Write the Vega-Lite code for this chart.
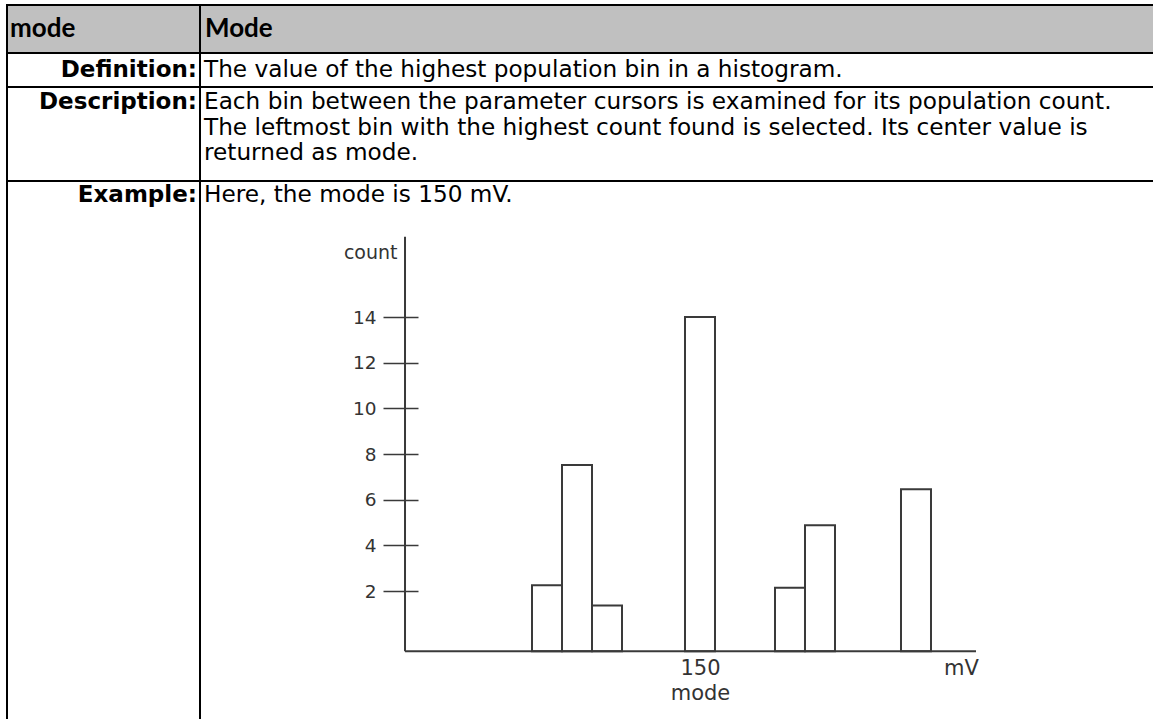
{
  "$schema": "https://vega.github.io/schema/vega-lite/v6.json",
  "autosize": {"type": "none"},
  "padding": {"left": 7, "top": 5, "right": 1146, "bottom": 714},
  "background": "white",
  "config": {"view": {"stroke": "black", "strokeWidth": 2}},
  "datasets": {
    "table": [
      {"row": "header", "label": "mode", "content": "Mode"},
      {"row": "Definition", "label": "Definition:", "content": "The value of the highest population bin in a histogram."},
      {"row": "Description", "label": "Description:", "content": "Each bin between the parameter cursors is examined for its population count.\nThe leftmost bin with the highest count found is selected. Its center value is\nreturned as mode."},
      {"row": "Example", "label": "Example:", "content": "Here, the mode is 150 mV."}
    ],
    "bins": [
      {"start": 94, "end": 104, "count": 2.25},
      {"start": 104, "end": 114, "count": 7.52},
      {"start": 114, "end": 124, "count": 1.37},
      {"start": 145, "end": 155, "count": 14},
      {"start": 175, "end": 185, "count": 2.15},
      {"start": 185, "end": 195, "count": 4.88},
      {"start": 217, "end": 227, "count": 6.46}
    ]
  },
  "columns": 2,
  "spacing": 0,
  "bounds": "flush",
  "align": "each",
  "concat": [
    {
      "width": 193, "height": 48,
      "view": {"fill": "#c0c0c0"},
      "data": {"name": "table"},
      "transform": [{"filter": "datum.row === 'header'"}],
      "mark": {"type": "text", "align": "left", "baseline": "middle", "font": "Lato", "fontWeight": "bold", "fontSize": 26, "dx": 3, "color": "black"},
      "encoding": {"x": {"value": 0}, "text": {"field": "label"}}
    },
    {
      "width": 955, "height": 48,
      "view": {"fill": "#c0c0c0"},
      "data": {"name": "table"},
      "transform": [{"filter": "datum.row === 'header'"}],
      "mark": {"type": "text", "align": "left", "baseline": "middle", "font": "Lato", "fontWeight": "bold", "fontSize": 26, "dx": 5, "color": "black"},
      "encoding": {"x": {"value": 0}, "text": {"field": "content"}}
    },
    {
      "width": 193, "height": 34,
      "data": {"name": "table"},
      "transform": [{"filter": "datum.row === 'Definition'"}],
      "mark": {"type": "text", "align": "right", "baseline": "middle", "font": "DejaVu Sans", "fontWeight": "bold", "fontSize": 23, "dx": -3, "color": "black"},
      "encoding": {"x": {"value": "width"}, "text": {"field": "label"}}
    },
    {
      "width": 955, "height": 34,
      "data": {"name": "table"},
      "transform": [{"filter": "datum.row === 'Definition'"}],
      "mark": {"type": "text", "align": "left", "baseline": "middle", "font": "DejaVu Sans", "fontSize": 23.2, "dx": 4, "color": "black"},
      "encoding": {"x": {"value": 0}, "text": {"field": "content"}}
    },
    {
      "width": 193, "height": 94,
      "data": {"name": "table"},
      "transform": [{"filter": "datum.row === 'Description'"}],
      "mark": {"type": "text", "align": "right", "baseline": "top", "font": "DejaVu Sans", "fontWeight": "bold", "fontSize": 23, "dx": -3, "dy": 4, "color": "black"},
      "encoding": {"x": {"value": "width"}, "y": {"value": 0}, "text": {"field": "label"}}
    },
    {
      "width": 955, "height": 94,
      "data": {"name": "table"},
      "transform": [{"filter": "datum.row === 'Description'"}],
      "mark": {"type": "text", "align": "left", "baseline": "top", "font": "DejaVu Sans", "fontSize": 23.2, "dx": 4, "dy": 4, "lineBreak": "\n", "lineHeight": 25.5, "color": "black"},
      "encoding": {"x": {"value": 0}, "y": {"value": 0}, "text": {"field": "content"}}
    },
    {
      "width": 193, "height": 540,
      "data": {"name": "table"},
      "transform": [{"filter": "datum.row === 'Example'"}],
      "mark": {"type": "text", "align": "right", "baseline": "top", "font": "DejaVu Sans", "fontWeight": "bold", "fontSize": 23, "dx": -3, "dy": 3, "color": "black"},
      "encoding": {"x": {"value": "width"}, "y": {"value": 0}, "text": {"field": "label"}}
    },
    {
      "width": 955, "height": 540,
      "layer": [
        {
          "data": {"name": "table"},
          "transform": [{"filter": "datum.row === 'Example'"}],
          "mark": {"type": "text", "align": "left", "baseline": "top", "font": "DejaVu Sans", "fontSize": 23.2, "dx": 4, "dy": 3, "color": "black"},
          "encoding": {"x": {"value": 0}, "y": {"value": 0}, "text": {"field": "content"}}
        },
        {
          "data": {"name": "bins"},
          "mark": {"type": "bar", "fill": "white", "stroke": "#3a3a3a", "strokeWidth": 2},
          "encoding": {
            "x": {
              "field": "start", "type": "quantitative",
              "scale": {"domain": [-16.667, 301.667], "nice": false, "zero": false},
              "axis": {
                "orient": "bottom", "values": [150, 237],
                "labelExpr": "datum.value == 150 ? ['150', 'mode'] : 'mV'",
                "ticks": false, "domain": false, "grid": false, "offset": -70,
                "labelPadding": 6, "labelFont": "DejaVu Sans", "labelFontSize": 21,
                "labelColor": "#333", "labelLineHeight": 25, "labelFlush": false,
                "labelOverlap": false, "title": null
              }
            },
            "x2": {"field": "end"},
            "y": {
              "field": "count", "type": "quantitative",
              "scale": {"domain": [-3.69, 19.96], "nice": false, "zero": false},
              "axis": {
                "orient": "left", "values": [2, 4, 6, 8, 10, 12, 14],
                "tickSize": 35, "tickWidth": 1.5, "tickColor": "#3a3a3a",
                "offset": -218, "domain": false, "grid": false,
                "labelPadding": 7, "labelFont": "DejaVu Sans", "labelFontSize": 18.5,
                "labelColor": "#333",
                "title": "count", "titleAngle": 0, "titleAlign": "right",
                "titleBaseline": "middle", "titleX": -21, "titleY": 71,
                "titleFont": "DejaVu Sans", "titleFontSize": 19,
                "titleFontWeight": "normal", "titleColor": "#333"
              }
            },
            "y2": {"datum": -0.63}
          }
        },
        {
          "data": {"values": [{"axis": "count"}]},
          "mark": {"type": "rule", "color": "#3a3a3a", "strokeWidth": 2},
          "encoding": {
            "x": {"datum": 51.67, "type": "quantitative"},
            "y": {"datum": -0.63, "type": "quantitative"},
            "y2": {"datum": 17.52}
          }
        },
        {
          "data": {"values": [{"axis": "mV"}]},
          "mark": {"type": "rule", "color": "#3a3a3a", "strokeWidth": 2},
          "encoding": {
            "x": {"datum": 51.67, "type": "quantitative"},
            "x2": {"datum": 242},
            "y": {"datum": -0.63, "type": "quantitative"}
          }
        }
      ]
    }
  ]
}
